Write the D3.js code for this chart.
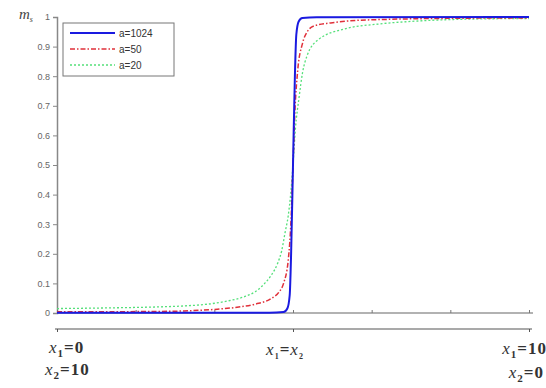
<!DOCTYPE html>
<html>
<head>
<meta charset="utf-8">
<script src="https://cdn.jsdelivr.net/npm/d3@7"></script>
<style>
  html, body { margin: 0; padding: 0; background: #fff; }
  svg { display: block; }
</style>
</head>
<body>
<div id="chart"></div>
<script>
// series values (x runs 0..10, x1 = x, x2 = 10 - x)
const seriesNames = ['a=1024', 'a=50', 'a=20'];

const blueX = [0, 4.5, 4.8, 4.88, 4.93, 4.96, 5, 5.04, 5.07, 5.12, 5.2, 5.5, 10];
const blueY = [0.001, 0.001, 0.003, 0.015, 0.06, 0.2, 0.5, 0.8, 0.94, 0.985, 0.997, 0.999, 1];

const redX = [0, 2, 2.7, 3.4, 3.85, 4.2, 4.55, 4.7, 4.8, 4.9, 4.96, 5, 5.04, 5.1, 5.2, 5.3, 5.45, 5.8, 6.2, 7, 8, 10];
const redY = [0.004, 0.005, 0.007, 0.013, 0.02, 0.03, 0.05, 0.07, 0.1, 0.18, 0.32, 0.5, 0.68, 0.82, 0.91, 0.95, 0.97, 0.98, 0.987, 0.992, 0.995, 0.997];

const greenX = [0, 1, 2, 2.7, 3.2, 3.6, 4, 4.2, 4.4, 4.55, 4.68, 4.76, 4.83, 4.9, 4.95, 5, 5.05, 5.13, 5.2, 5.3, 5.55, 6.1, 6.8, 7.6, 8.5, 10];
const greenY = [0.015, 0.017, 0.02, 0.024, 0.03, 0.04, 0.057, 0.072, 0.1, 0.13, 0.17, 0.21, 0.27, 0.33, 0.4, 0.5, 0.62, 0.73, 0.81, 0.87, 0.925, 0.96, 0.976, 0.986, 0.992, 0.995];

const yTicks = [0, 0.1, 0.2, 0.3, 0.4, 0.5, 0.6, 0.7, 0.8, 0.9, 1];
const xTicks = [0, 10 / 6, 20 / 6, 5, 40 / 6, 50 / 6, 10];
const bottomTicks = [0, 5, 10];

const width = 546, height = 388;
const margin = { left: 57, right: 529, top: 17, bottom: 313 };

const svg = d3.select('#chart').append('svg')
  .attr('width', width)
  .attr('height', height);

const x = d3.scaleLinear().domain([0, 10]).range([margin.left, margin.right]);
const y = d3.scaleLinear().domain([0, 1]).range([margin.bottom, margin.top]);

// y axis
const yAxis = svg.append('g')
  .attr('transform', `translate(${margin.left},0)`)
  .call(d3.axisLeft(y).tickValues(yTicks).tickSize(4).tickPadding(3)
    .tickFormat(d => d3.format('~g')(d)));
yAxis.select('.domain').attr('stroke', '#888').attr('stroke-width', 1.5);
yAxis.selectAll('.tick line').attr('stroke', '#888');
yAxis.selectAll('.tick text')
  .attr('fill', '#666')
  .style('font-family', 'Arial, sans-serif')
  .style('font-size', '9px');

// zero line axis
const zeroAxis = svg.append('g')
  .attr('transform', `translate(0,${margin.bottom})`)
  .call(d3.axisTop(x).tickValues(xTicks).tickSize(3).tickSizeOuter(0).tickFormat(''));
zeroAxis.select('.domain').attr('stroke', '#999').attr('stroke-width', 1.5)
  .attr('d', `M${margin.left},0H${margin.right + 4}`);
zeroAxis.selectAll('.tick line').attr('stroke', '#777');

// lower axis
const lowAxis = svg.append('g')
  .attr('transform', 'translate(0,329)')
  .call(d3.axisBottom(x).tickValues(bottomTicks).tickSize(3).tickSizeOuter(0).tickFormat(''));
lowAxis.select('.domain').attr('stroke', '#555').attr('stroke-width', 1.2)
  .attr('d', `M${margin.left - 2},0H${margin.right + 3}`);
lowAxis.selectAll('.tick line').attr('stroke', '#555');

// curves
const line = d3.line()
  .x(d => x(d[0]))
  .y(d => y(d[1]))
  .curve(d3.curveMonotoneX);

const series = [
  { name: seriesNames[2], xs: greenX, ys: greenY, color: '#55e07a', width: 1.3, dash: '2,2' },
  { name: seriesNames[1], xs: redX, ys: redY, color: '#e0303a', width: 1.5, dash: '5,2,1.5,2' },
  { name: seriesNames[0], xs: blueX, ys: blueY, color: '#1a1ae0', width: 2, dash: null }
];

series.forEach(s => {
  svg.append('path')
    .datum(s.xs.map((v, i) => [v, s.ys[i]]))
    .attr('fill', 'none')
    .attr('stroke', s.color)
    .attr('stroke-width', s.width)
    .attr('stroke-dasharray', s.dash)
    .attr('d', line);
});

// legend
const legend = svg.append('g').attr('transform', 'translate(63,23)');
legend.append('rect')
  .attr('width', 111)
  .attr('height', 53)
  .attr('fill', '#fff')
  .attr('stroke', '#777')
  .attr('stroke-width', 1);

const legendItems = legend.selectAll('.legend-item')
  .data(series.slice().reverse())
  .enter().append('g')
  .attr('transform', (d, i) => `translate(0,${10 + i * 16})`);

legendItems.append('line')
  .attr('x1', 7).attr('x2', 52)
  .attr('stroke', d => d.color)
  .attr('stroke-width', d => d.width)
  .attr('stroke-dasharray', d => d.dash);

legendItems.append('text')
  .attr('x', 56)
  .attr('y', 3.5)
  .attr('fill', '#333')
  .style('font-family', 'Arial, sans-serif')
  .style('font-size', '10px')
  .text(d => d.name);

// y label
const yLabel = svg.append('text')
  .attr('x', 19)
  .attr('y', 19)
  .attr('fill', '#444')
  .style('font-family', '"Liberation Serif", serif')
  .style('font-style', 'italic')
  .style('font-size', '15px');
yLabel.append('tspan').text('m');
yLabel.append('tspan').attr('dy', 3).style('font-size', '8px').text('s');

// x labels
function xLabel(px, py, anchor, parts) {
  const t = svg.append('text')
    .attr('x', px)
    .attr('y', py)
    .attr('text-anchor', anchor)
    .attr('fill', '#333')
    .style('font-family', '"Liberation Serif", serif')
    .style('font-size', '17px')
    .style('letter-spacing', '1px')
    .style('font-weight', 'bold');
  parts.forEach(p => {
    const s = t.append('tspan').text(p.t);
    if (p.italic) s.style('font-style', 'italic').style('font-weight', 'normal');
    if (p.sub) s.attr('dy', 4).style('font-size', p.small ? '8px' : '11px');
    if (p.up) s.attr('dy', -4);
  });
}

xLabel(x(0) - 8, 353, 'start', [{ t: 'x', italic: true }, { t: '1', sub: true }, { t: '=0', up: true }]);
xLabel(x(0) - 12, 375, 'start', [{ t: 'x', italic: true }, { t: '2', sub: true }, { t: '=10', up: true }]);
xLabel(x(5) - 8, 355, 'middle', [{ t: 'x', italic: true }, { t: '1', sub: true, small: true }, { t: '=', up: true }, { t: 'x', italic: true }, { t: '2', sub: true, small: true }]);
xLabel(547, 354, 'end', [{ t: 'x', italic: true }, { t: '1', sub: true }, { t: '=10', up: true }]);
xLabel(544, 378, 'end', [{ t: 'x', italic: true }, { t: '2', sub: true }, { t: '=0', up: true }]);
</script>
</body>
</html>
